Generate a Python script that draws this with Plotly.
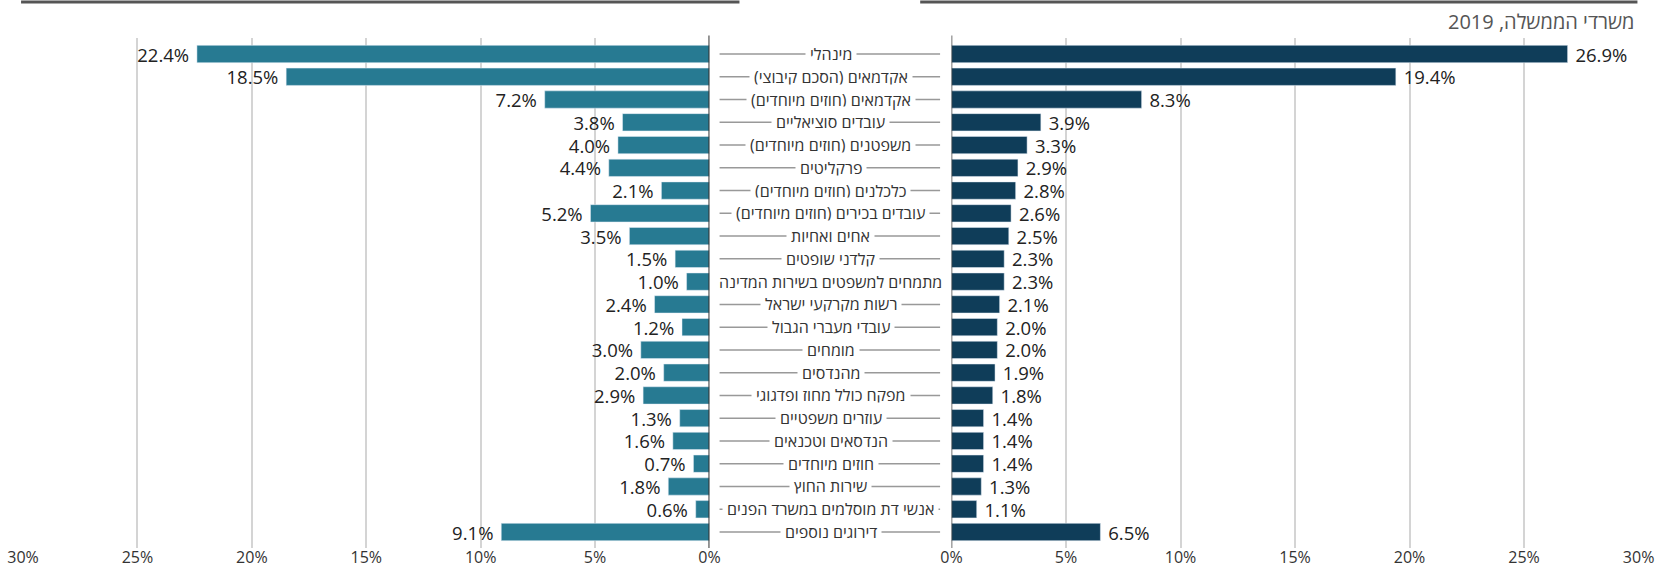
import plotly.graph_objects as go

# categories (top to bottom)
categories = ['מינהלי', 'אקדמאים (הסכם קיבוצי)', 'אקדמאים (חוזים מיוחדים)', 'עובדים סוציאליים',
              'משפטנים (חוזים מיוחדים)', 'פרקליטים', 'כלכלנים (חוזים מיוחדים)',
              'עובדים בכירים (חוזים מיוחדים)', 'אחים ואחיות', 'קלדני שופטים',
              'מתמחים למשפטים בשירות המדינה', 'רשות מקרקעי ישראל', 'עובדי מעברי הגבול',
              'מומחים', 'מהנדסים', 'מפקח כולל מחוז ופדגוגי', 'עוזרים משפטיים',
              'הנדסאים וטכנאים', 'חוזים מיוחדים', 'שירות החוץ',
              'אנשי דת מוסלמים במשרד הפנים', 'דירוגים נוספים']

left_values = [22.4, 18.5, 7.2, 3.8, 4.0, 4.4, 2.1, 5.2, 3.5, 1.5, 1.0, 2.4, 1.2,
               3.0, 2.0, 2.9, 1.3, 1.6, 0.7, 1.8, 0.6, 9.1]
right_values = [26.9, 19.4, 8.3, 3.9, 3.3, 2.9, 2.8, 2.6, 2.5, 2.3, 2.3, 2.1, 2.0,
                2.0, 1.9, 1.8, 1.4, 1.4, 1.4, 1.3, 1.1, 6.5]

title_right = 'משרדי הממשלה, 2019'
tick_vals = [0, 5, 10, 15, 20, 25, 30]
tick_text = ['0%', '5%', '10%', '15%', '20%', '25%', '30%']

FONT = 'Open Sans, Noto Sans, sans-serif'
LEFT_COLOR = '#277a92'
RIGHT_COLOR = '#0f3d59'
NBSP = '\u00a0'

fig = go.Figure()

# nbsp padding gives a little more room between bar end and its label
fig.add_trace(go.Bar(x=left_values, y=categories, orientation='h', xaxis='x', yaxis='y',
                     marker_color=LEFT_COLOR, text=[f'{v:.1f}%{NBSP}' for v in left_values],
                     textposition='outside', constraintext='none',
                     textfont=dict(size=18.5, color='#222', family=FONT),
                     cliponaxis=False, showlegend=False, hoverinfo='x+y'))

fig.add_trace(go.Bar(x=right_values, y=categories, orientation='h', xaxis='x2', yaxis='y',
                     marker_color=RIGHT_COLOR, text=[f'{NBSP}{v:.1f}%' for v in right_values],
                     textposition='outside', constraintext='none',
                     textfont=dict(size=18.5, color='#222', family=FONT),
                     cliponaxis=False, showlegend=False, hoverinfo='x+y'))

# category labels in the middle with leader lines
for c in categories:
    fig.add_shape(type='line', xref='paper', yref='y', x0=0.434, x1=0.567, y0=c, y1=c,
                  line=dict(color='#999', width=1.5), layer='below')
    fig.add_annotation(x=0.5012, y=c, xref='paper', yref='y', text=c, showarrow=False,
                       font=dict(size=16, color='#333', family=FONT), bgcolor='white',
                       borderpad=4, xanchor='center', yanchor='middle')

# zero lines
fig.add_shape(type='line', xref='x', yref='paper', x0=0, x1=0, y0=0.0, y1=1.005,
              line=dict(color='#333', width=2))
fig.add_shape(type='line', xref='x2', yref='paper', x0=0, x1=0, y0=0.0, y1=1.005,
              line=dict(color='#444', width=1.5))

# header lines
fig.add_shape(type='line', xref='paper', yref='paper', x0=0.0127, x1=0.446, y0=1.0706, y1=1.0706,
              line=dict(color='#555', width=3))
fig.add_shape(type='line', xref='paper', yref='paper', x0=0.555, x1=0.9876, y0=1.0706, y1=1.0706,
              line=dict(color='#555', width=3))

fig.add_annotation(x=0.9876, y=1.0324, xref='paper', yref='paper', text=title_right,
                   showarrow=False, xanchor='right', yanchor='middle',
                   font=dict(size=20, color='#555', family=FONT))

axis_common = dict(tickvals=tick_vals, ticktext=tick_text, showgrid=True, automargin=False,
                   gridcolor='#d4d4d4', gridwidth=2, zeroline=False, showline=False,
                   ticks='', ticklabelstandoff=-2,
                   tickfont=dict(size=16, color='#333', family=FONT), fixedrange=True)

fig.update_layout(
    width=1658, height=567,
    plot_bgcolor='white', paper_bgcolor='white',
    font=dict(family=FONT),
    margin=dict(l=0, r=0, t=38, b=19),
    bargap=0.24,
    xaxis=dict(domain=[0.0139, 0.4279], range=[30, 0], **axis_common),
    xaxis2=dict(domain=[0.5739, 0.9883], range=[0, 30], **axis_common),
    yaxis=dict(autorange='reversed', showticklabels=False, showgrid=False, zeroline=False,
               ticks='', fixedrange=True, automargin=False),
)

# drop the default page margin so the figure sits at the window's top-left corner
fig.write_html('out.html', config={'displayModeBar': False},
               post_script="document.body.style.margin='0';")
